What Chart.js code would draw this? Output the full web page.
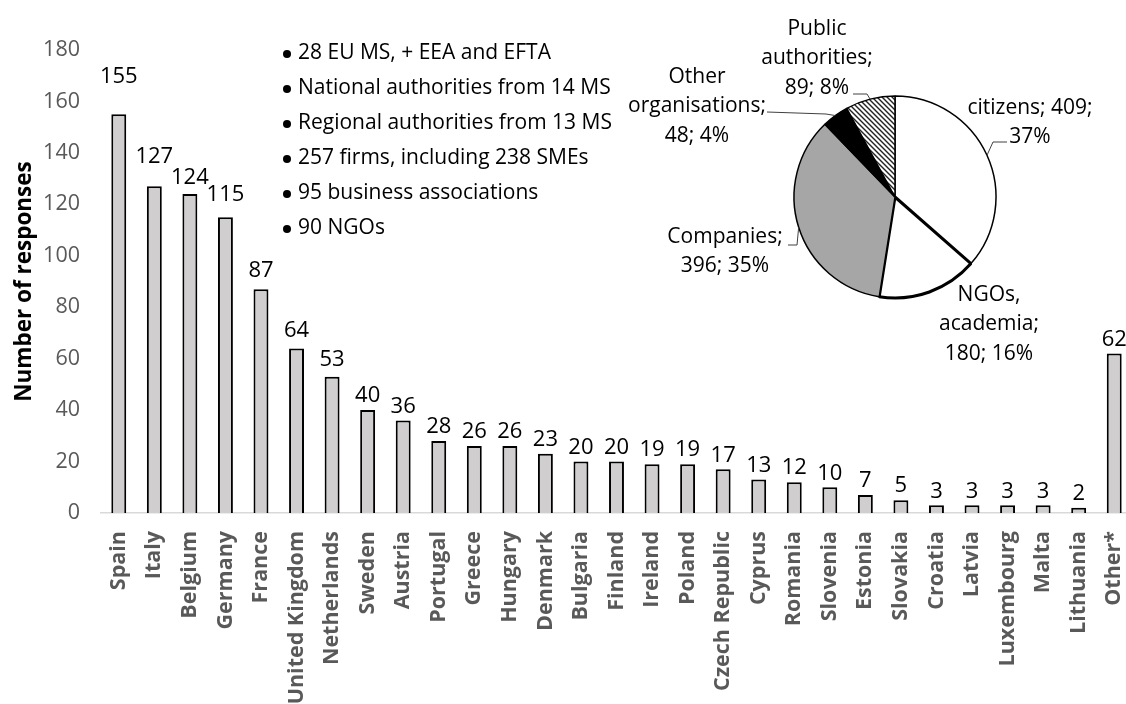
<!DOCTYPE html>
<html>
<head>
<meta charset="utf-8">
<script src="https://cdn.jsdelivr.net/npm/chart.js@4/dist/chart.umd.min.js"></script>
<style>
  html, body { margin: 0; padding: 0; background: #fff; overflow: hidden; }
  #wrap { position: relative; width: 1126px; height: 704px; overflow: hidden; }
  #bars { position: absolute; left: 0; top: 0; }
  #pie { position: absolute; left: 600px; top: 0; }
</style>
</head>
<body>
<div id="wrap">
  <canvas id="bars" width="1134" height="704"></canvas>
  <canvas id="pie" width="526" height="400"></canvas>
</div>
<script>
// bar chart data
var countries = ["Spain", "Italy", "Belgium", "Germany", "France", "United Kingdom", "Netherlands",
  "Sweden", "Austria", "Portugal", "Greece", "Hungary", "Denmark", "Bulgaria", "Finland", "Ireland",
  "Poland", "Czech Republic", "Cyprus", "Romania", "Slovenia", "Estonia", "Slovakia", "Croatia",
  "Latvia", "Luxembourg", "Malta", "Lithuania", "Other*"];
var responses = [155, 127, 124, 115, 87, 64, 53, 40, 36, 28, 26, 26, 23, 20, 20, 19, 19, 17, 13,
  12, 10, 7, 5, 3, 3, 3, 3, 2, 62];
var yTicks = [0, 20, 40, 60, 80, 100, 120, 140, 160, 180];

var notes = ["28 EU MS, + EEA and EFTA", "National authorities from 14 MS",
  "Regional authorities from 13 MS", "257 firms, including 238 SMEs",
  "95 business associations", "90 NGOs"];

// pie data
var groups = ["citizens", "NGOs, academia", "Companies", "Other organisations", "Public authorities"];
var groupCounts = [409, 180, 396, 48, 89];
var groupShares = [37, 16, 35, 4, 8];

// a few labels sit higher in the original
var labelLift = { "Spain": 24, "Italy": 16, "Belgium": 2, "Germany": 8, "France": 4, "United Kingdom": 4, "Netherlands": 3 };

var FONT = "'Open Sans', 'Noto Sans', sans-serif";

var barLabels = {
  id: 'barLabels',
  afterDatasetsDraw: function(chart) {
    var ctx = chart.ctx;
    var meta = chart.getDatasetMeta(0);
    ctx.save();
    ctx.font = '22px ' + FONT;
    ctx.fillStyle = '#000';
    ctx.textAlign = 'center';
    ctx.textBaseline = 'bottom';
    meta.data.forEach(function(bar, i) {
      var lift = labelLift[countries[i]] || 0;
      ctx.fillText(String(responses[i]), bar.x, bar.y - 3 - lift);
    });
    // bullet notes
    ctx.font = '21px ' + FONT;
    ctx.textAlign = 'left';
    ctx.textBaseline = 'middle';
    notes.forEach(function(t, i) {
      var y = 53 + i * 35;
      ctx.beginPath();
      ctx.arc(287, y + 1, 4, 0, Math.PI * 2);
      ctx.fill();
      ctx.fillText(t, 298, y);
    });
    ctx.restore();
  }
};

new Chart(document.getElementById('bars'), {
  type: 'bar',
  data: {
    labels: countries,
    datasets: [{
      data: responses,
      backgroundColor: '#d0cece',
      borderColor: '#000',
      borderWidth: 2,
      categoryPercentage: 1,
      barPercentage: 0.42
    }]
  },
  options: {
    responsive: false,
    animation: false,
    layout: { padding: { top: 50, right: 2, left: 0, bottom: 0 } },
    plugins: { legend: { display: false }, tooltip: { enabled: false } },
    scales: {
      x: {
        grid: { display: false, drawTicks: false },
        border: { display: true, color: '#d9d9d9', width: 1.5 },
        ticks: {
          autoSkip: false, maxRotation: 90, minRotation: 90, padding: 18,
          color: '#595959', font: { family: FONT, size: 21.5, weight: 'bold' }
        },
        afterFit: function(s) { s.height = 191; s.paddingLeft = 0; s.paddingRight = 0; }
      },
      y: {
        min: yTicks[0], max: yTicks[yTicks.length - 1],
        grid: { display: false, drawTicks: false },
        border: { display: false },
        afterBuildTicks: function(s) { s.ticks = yTicks.map(function(v) { return { value: v }; }); },
        ticks: { padding: 21, color: '#595959', font: { family: FONT, size: 21.5 } },
        title: {
          display: true, text: 'Number of responses', color: '#000',
          font: { family: FONT, size: 22.5, weight: 'bold' }, padding: { top: 11, bottom: 0 }
        },
        afterFit: function(s) { s.width = 101; s.paddingTop = 0; s.paddingBottom = 0; }
      }
    }
  },
  plugins: [barLabels]
});

// hatch pattern for public authorities
function hatch() {
  var c = document.createElement('canvas');
  c.width = 5; c.height = 5;
  var g = c.getContext('2d');
  g.fillStyle = '#fff';
  g.fillRect(0, 0, 5, 5);
  g.strokeStyle = '#222';
  g.lineWidth = 1.4;
  g.beginPath();
  g.moveTo(-1, -1); g.lineTo(6, 6);
  g.moveTo(-1, 4); g.lineTo(1, 6);
  g.moveTo(4, -1); g.lineTo(6, 1);
  g.stroke();
  return g.createPattern(c, 'repeat');
}

// label layout around the pie: offset of first line from pie centre, words per line, leader line
var pieLabelLayout = [
  { dx: 135, dy: -89, words: [2, 1], leader: [[112, -55], [98, -55]] },
  { dx: 94, dy: 98, words: [1, 1, 2], leader: null },
  { dx: -170, dy: 40, words: [1, 2], leader: [[-107, 48], [-98, 48]] },
  { dx: -198, dy: -120, words: [1, 1, 2], leader: [[-128, -85], [-69, -83]] },
  { dx: -78, dy: -168, words: [1, 1, 2], leader: [[-42, -103], [-28, -103]] }
];

var pieLabels = {
  id: 'pieLabels',
  afterDatasetsDraw: function(chart) {
    var ctx = chart.ctx;
    var meta = chart.getDatasetMeta(0);
    ctx.save();
    ctx.font = '21px ' + FONT;
    ctx.fillStyle = '#000';
    ctx.textAlign = 'center';
    ctx.textBaseline = 'middle';
    meta.data.forEach(function(arc, i) {
      var p = arc.getProps(['x', 'y', 'startAngle', 'endAngle', 'outerRadius'], true);
      var lay = pieLabelLayout[i];
      var words = (groups[i] + '; ' + groupCounts[i] + '; ' + groupShares[i] + '%').split(' ');
      var k = 0;
      lay.words.forEach(function(n, li) {
        var line = words.slice(k, k + n).join(' ');
        k += n;
        ctx.fillText(line, p.x + lay.dx, p.y + lay.dy + li * 29.5);
      });
      if (lay.leader) {
        var mid = (p.startAngle + p.endAngle) / 2;
        ctx.strokeStyle = '#404040';
        ctx.lineWidth = 1;
        ctx.beginPath();
        ctx.moveTo(p.x + lay.leader[0][0], p.y + lay.leader[0][1]);
        ctx.lineTo(p.x + lay.leader[1][0], p.y + lay.leader[1][1]);
        ctx.lineTo(p.x + p.outerRadius * Math.cos(mid), p.y + p.outerRadius * Math.sin(mid));
        ctx.stroke();
      }
    });
    ctx.restore();
  }
};

new Chart(document.getElementById('pie'), {
  type: 'pie',
  data: {
    labels: groups,
    datasets: [{
      data: groupCounts,
      backgroundColor: ['#ffffff', '#ffffff', '#a6a6a6', '#000000', hatch()],
      borderColor: '#000',
      borderWidth: [1.5, 3, 1.5, 1.5, 1.5]
    }]
  },
  options: {
    responsive: false,
    animation: false,
    radius: 101,
    layout: { padding: { left: 94, right: 30, top: 0, bottom: 6 } },
    plugins: { legend: { display: false }, tooltip: { enabled: false } }
  },
  plugins: [pieLabels]
});
</script>
</body>
</html>
